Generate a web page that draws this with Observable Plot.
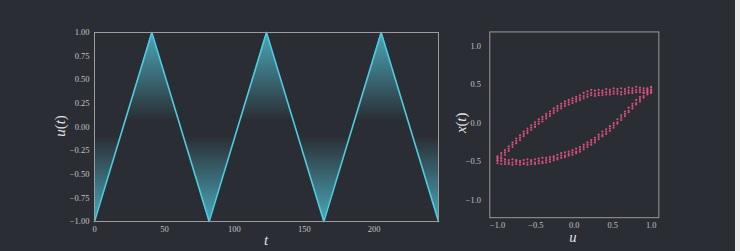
<!DOCTYPE html>
<html><head><meta charset="utf-8">
<script src="https://cdn.jsdelivr.net/npm/d3@7"></script>
<script src="https://cdn.jsdelivr.net/npm/@observablehq/plot@0.6"></script>
<style>
html,body{margin:0;padding:0;background:#e9e9e9;}
#wrap{position:relative;width:735px;height:251px;background:#2a2d33;overflow:hidden;}
#p1{position:absolute;left:0;top:0;}
#p2{position:absolute;left:450px;top:0;}
svg text{font-family:"Liberation Serif",serif;}
</style></head><body><div id="wrap"><div id="p1"></div><div id="p2"></div></div>
<script>
// triangle-wave input u(t): vertices
const waveT = [0, 41, 82, 123, 164, 205, 246];
const waveU = [-1, 1, -1, 1, -1, 1, -1];
const tTicks = [0, 50, 100, 150, 200];
const uTicks = [-1, -0.75, -0.5, -0.25, 0, 0.25, 0.5, 0.75, 1];

// phase-plane samples: u grid and x(t) for three rising and three falling passes
const uGrid = [-1.000,-0.951,-0.902,-0.854,-0.805,-0.756,-0.707,-0.659,-0.610,-0.561,-0.512,-0.463,-0.415,-0.366,-0.317,-0.268,-0.220,-0.171,-0.122,-0.073,-0.024,0.024,0.073,0.122,0.171,0.220,0.268,0.317,0.366,0.415,0.463,0.512,0.561,0.610,0.659,0.707,0.756,0.805,0.854,0.902,0.951,1.000];
const xRise1 = [-0.44,-0.46,-0.47,-0.48,-0.47,-0.48,-0.49,-0.48,-0.47,-0.48,-0.47,-0.46,-0.45,-0.45,-0.44,-0.43,-0.41,-0.39,-0.38,-0.37,-0.35,-0.33,-0.31,-0.28,-0.25,-0.22,-0.19,-0.15,-0.11,-0.08,-0.04,0.00,0.05,0.10,0.15,0.20,0.25,0.30,0.34,0.39,0.43,0.47];
const xRise2 = [-0.48,-0.49,-0.50,-0.51,-0.51,-0.50,-0.51,-0.52,-0.51,-0.50,-0.51,-0.49,-0.50,-0.48,-0.47,-0.45,-0.45,-0.42,-0.42,-0.40,-0.38,-0.37,-0.34,-0.31,-0.28,-0.25,-0.22,-0.18,-0.15,-0.11,-0.07,-0.03,0.01,0.07,0.12,0.16,0.22,0.26,0.31,0.35,0.40,0.42];
const xRise3 = [-0.52,-0.53,-0.53,-0.53,-0.54,-0.53,-0.54,-0.53,-0.54,-0.53,-0.53,-0.52,-0.52,-0.51,-0.50,-0.48,-0.47,-0.45,-0.44,-0.42,-0.41,-0.39,-0.37,-0.34,-0.31,-0.28,-0.25,-0.21,-0.17,-0.14,-0.10,-0.06,-0.01,0.04,0.09,0.14,0.19,0.24,0.28,0.33,0.37,0.39];
const xFall1 = [-0.43,-0.39,-0.35,-0.30,-0.25,-0.20,-0.16,-0.11,-0.07,-0.03,0.01,0.05,0.08,0.12,0.15,0.19,0.22,0.25,0.28,0.30,0.32,0.34,0.36,0.39,0.41,0.43,0.42,0.43,0.42,0.44,0.43,0.45,0.44,0.45,0.44,0.46,0.45,0.47,0.46,0.45,0.45,0.46];
const xFall2 = [-0.46,-0.42,-0.38,-0.33,-0.28,-0.23,-0.19,-0.14,-0.10,-0.06,-0.02,0.02,0.05,0.09,0.12,0.16,0.19,0.22,0.25,0.27,0.29,0.31,0.33,0.35,0.37,0.39,0.38,0.39,0.39,0.40,0.40,0.41,0.41,0.40,0.41,0.42,0.42,0.43,0.43,0.42,0.42,0.43];
const xFall3 = [-0.49,-0.45,-0.41,-0.36,-0.31,-0.26,-0.22,-0.17,-0.13,-0.09,-0.05,-0.01,0.02,0.06,0.09,0.13,0.16,0.19,0.22,0.24,0.26,0.28,0.30,0.32,0.34,0.36,0.35,0.36,0.36,0.37,0.37,0.38,0.38,0.37,0.38,0.39,0.39,0.40,0.40,0.39,0.39,0.40];
const phaseTicks = [-1, -0.5, 0, 0.5, 1];

const wave = waveT.map((t, i) => ({t, u: waveU[i]}));
const pts = [];
for (const arr of [xRise1, xRise2, xRise3, xFall1, xFall2, xFall3])
  arr.forEach((x, i) => pts.push({u: uGrid[i], x}));

const CYAN = "#4fcbe0";
const PINK = "#d9507f";
const tickStyle = {background: "transparent", color: "#c4c4c4", fontFamily: "Liberation Serif, serif", fontSize: "8.5px", overflow: "visible"};

const p1 = Plot.plot({
  width: 450, height: 251,
  marginLeft: 94, marginRight: 12, marginTop: 32, marginBottom: 30,
  style: tickStyle,
  x: {domain: [0, 246], ticks: tTicks, tickSize: 0, tickPadding: 4, label: null},
  y: {domain: [-1, 1], ticks: uTicks, tickFormat: d3.format(".2f"), tickSize: 0, tickPadding: 5, label: null},
  marks: [
    () => {
      const defs = d3.create("svg:defs");
      const g = defs.append("linearGradient").attr("id", "ugrad")
        .attr("x1", 0).attr("x2", 0).attr("y1", 0).attr("y2", 1);
      [[0, 0.88], [0.47, 0], [0.55, 0], [1, 0.88]].forEach(([o, a]) =>
        g.append("stop").attr("offset", o).attr("stop-color", "#4fb8cc").attr("stop-opacity", a));
      return defs.node();
    },
    Plot.areaY(wave, {x: "t", y: "u", fill: "url(#ugrad)"}),
    Plot.line(wave, {x: "t", y: "u", stroke: CYAN, strokeWidth: 1.6}),
    Plot.frame({stroke: "#9c9c9c", strokeWidth: 1})
  ]
});
document.getElementById("p1").appendChild(p1);

const p2 = Plot.plot({
  width: 290, height: 251,
  marginLeft: 40, marginRight: 78, marginTop: 32, marginBottom: 30,
  style: tickStyle,
  x: {domain: [-1.1, 1.1], ticks: phaseTicks, tickFormat: d3.format(".1f"), tickSize: 0, tickPadding: 4, label: null},
  y: {domain: [-1.225, 1.18], ticks: [-1, -0.5, 0, 0.5, 1], tickFormat: d3.format(".1f"), tickSize: 0, tickPadding: 9, label: null},
  marks: [
    Plot.dot(pts, {x: "u", y: "x", r: 1.1, fill: PINK, stroke: null}),
    Plot.frame({stroke: "#9c9c9c", strokeWidth: 1})
  ]
});
document.getElementById("p2").appendChild(p2);

function mathLabel(svg, x, y, parts, rotate) {
  const t = d3.select(svg).append("text")
    .attr("transform", `translate(${x},${y})` + (rotate ? " rotate(-90)" : ""))
    .attr("text-anchor", "middle").attr("dominant-baseline", "middle")
    .attr("fill", "#e2e2e2").attr("font-size", 15)
    .style("font-family", "Liberation Serif, serif");
  parts.forEach(([s, it]) => t.append("tspan").attr("font-style", it ? "italic" : "normal").text(s));
}
mathLabel(p1, 62, 126, [["u", 1], ["(", 0], ["t", 1], [")", 0]], true);
mathLabel(p1, 266, 242, [["t", 1]], false);
mathLabel(p2, 13, 125, [["x", 1], ["(", 0], ["t", 1], [")", 0]], true);
mathLabel(p2, 125, 243, [["u", 1]], false);
</script></body></html>
